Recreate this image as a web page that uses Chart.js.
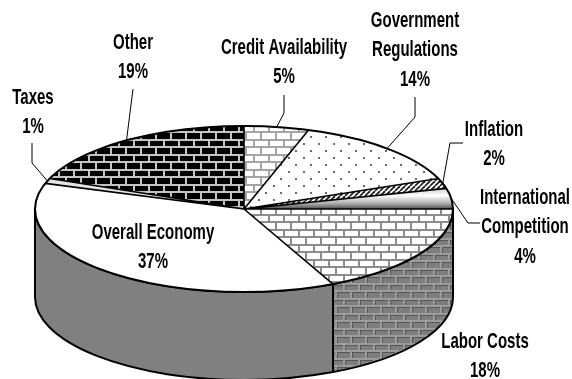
<!DOCTYPE html>
<html>
<head>
<meta charset="utf-8">
<script src="https://cdn.jsdelivr.net/npm/chart.js@4.4.1/dist/chart.umd.min.js"></script>
<style>
  html, body { margin: 0; padding: 0; background: #fff; }
  #wrap { width: 572px; height: 379px; position: relative; }
</style>
</head>
<body>
<div id="wrap"><canvas id="myChart"></canvas></div>
<script>
const categories = ['Credit Availability', 'Government Regulations', 'Inflation', 'International Competition',
  'Labor Costs', 'Overall Economy', 'Taxes', 'Other'];
const shares = [5, 14, 2, 4, 18, 37, 1, 19];
// how each category name is broken over lines in its label
const nameLines = [['Credit Availability'], ['Government', 'Regulations'], ['Inflation'], ['International', 'Competition'],
  ['Labor Costs'], ['Overall Economy'], ['Taxes'], ['Other']];

// pie geometry: top face is a squashed circle, the rim hangs DEPTH px below it
const RX = 209;
const RY = 83;
const DEPTH = 88;
const K = RY / RX;

// label placement (centre of first text line) and leader knee points
const labelSpots = [
  { x: 284, y: 48, knee: [[284, 95], [284, 113]] },
  { x: 415, y: 21, knee: [[415, 97], [415, 117]] },
  { x: 494, y: 130, knee: [[463, 143], [450, 143]] },
  { x: 525, y: 198, knee: [[480, 223], [468, 223]] },
  { x: 485, y: 342, knee: null },
  { x: 153, y: 233, knee: null },
  { x: 33, y: 98, knee: [[32, 143], [32, 163]] },
  { x: 133, y: 43, knee: [[133, 89]] },
];
const LINE_H = 29.5;
const TEXT_SQUEEZE = 0.75; // narrow face
const TEXT_STRETCH = 1.06;

function tile(w, h, paint) {
  const c = document.createElement('canvas');
  c.width = w; c.height = h;
  paint(c.getContext('2d'));
  return c;
}

function brickTile(brick, mortar, edge) {
  return tile(15, 15, g => {
    g.fillStyle = mortar;
    g.fillRect(0, 0, 15, 15);
    const rows = [[0, 0, 5], [7, 7, 6]];
    rows.forEach(([y, off, h]) => {
      [off - 15, off, off + 15].forEach(x => {
        if (edge) {
          g.fillStyle = edge;
          g.fillRect(x, y, 13, h);
          g.fillStyle = brick;
          g.fillRect(x + 1, y + 1, 12, h - 1);
        } else {
          g.fillStyle = brick;
          g.fillRect(x, y, 13, h);
        }
      });
    });
  });
}

const dotTile = tile(15, 14, g => {
  g.fillStyle = '#fff';
  g.fillRect(0, 0, 15, 14);
  g.fillStyle = '#6a6a6a';
  g.fillRect(3, 3, 2, 2);
  g.fillRect(10, 10, 2, 2);
});

const stripeTile = tile(5, 5, g => {
  g.fillStyle = '#fff';
  g.fillRect(0, 0, 5, 5);
  g.strokeStyle = '#222';
  g.lineWidth = 1.8;
  [[-5, 5, 0, 0], [0, 5, 5, 0], [5, 5, 10, 0]].forEach(([a, b, c, d]) => {
    g.beginPath(); g.moveTo(a, b); g.lineTo(c, d); g.stroke();
  });
});

const pctx = document.createElement('canvas').getContext('2d');
// patterns for the top face are painted inside the squashed transform, so stretch them back
function topPattern(src) {
  const p = pctx.createPattern(src, 'repeat');
  p.setTransform(new DOMMatrix().scale(1, 1 / K));
  return p;
}

const topFills = [
  topPattern(brickTile('#fff', '#a4a4a4')),
  topPattern(dotTile),
  topPattern(stripeTile),
  null, // gradient, built once the chart area is known
  topPattern(brickTile('#fff', '#8c8c8c')),
  '#ffffff',
  '#e4e4e4',
  topPattern(brickTile('#000', '#c4c4c4')),
];
const sideFills = ['#a0a0a0', '#a0a0a0', '#808080', '#808080',
  pctx.createPattern(brickTile('#7e7e7e', '#9c9c9c', '#555555'), 'repeat'),
  '#808080', '#a0a0a0', '#404040'];

function sliceFill(c) {
  if (c.dataIndex !== 3) return topFills[c.dataIndex];
  const area = c.chart.chartArea;
  if (!area) return '#cccccc';
  const cy = (area.top + area.bottom) / 2;
  const g = c.chart.ctx.createLinearGradient(0, cy - RX * Math.sin(Math.PI * 0.08), 0, cy);
  g.addColorStop(0, '#cfcfcf');
  g.addColorStop(0.35, '#ffffff');
  g.addColorStop(0.75, '#a8a8a8');
  g.addColorStop(1, '#4a4a4a');
  return g;
}

const pie3d = {
  id: 'pie3d',
  beforeDatasetsDraw(chart) {
    const ctx = chart.ctx;
    const arcs = chart.getDatasetMeta(0).data;
    const { x: cx, y: cy, outerRadius: r } = arcs[0];
    const ry = r * K;
    // rim of the slices facing the viewer
    arcs.forEach((arc, i) => {
      const a = Math.max(arc.startAngle, 0);
      const b = Math.min(arc.endAngle, Math.PI);
      if (a >= b) return;
      ctx.beginPath();
      ctx.ellipse(cx, cy, r, ry, 0, a, b);
      ctx.ellipse(cx, cy + DEPTH, r, ry, 0, b, a, true);
      ctx.closePath();
      ctx.fillStyle = sideFills[i];
      ctx.fill();
      ctx.lineWidth = 2;
      ctx.strokeStyle = '#000';
      ctx.lineJoin = 'round';
      ctx.stroke();
    });
    ctx.save();
    ctx.translate(cx, cy);
    ctx.scale(1, K);
    ctx.translate(-cx, -cy);
  },
  afterDatasetsDraw(chart) {
    const ctx = chart.ctx;
    const arcs = chart.getDatasetMeta(0).data;
    const { x: cx, y: cy, outerRadius: r } = arcs[0];
    ctx.restore();
    // spokes and rim outlined in screen space so the pen stays even
    const m = new DOMMatrix().translate(cx, cy).scale(1, K).translate(-cx, -cy);
    const spokes = new Path2D();
    arcs.forEach(arc => {
      spokes.moveTo(cx, cy);
      spokes.lineTo(cx + r * Math.cos(arc.startAngle), cy + r * Math.sin(arc.startAngle));
    });
    const sp = new Path2D();
    sp.addPath(spokes, m);
    const rim = new Path2D();
    rim.ellipse(cx, cy, r, r * K, 0, 0, Math.PI * 2);
    ctx.save();
    ctx.strokeStyle = '#000';
    ctx.lineWidth = 1.6;
    ctx.stroke(sp);
    ctx.lineWidth = 2;
    ctx.stroke(rim);
    ctx.restore();
  },
  afterDraw(chart) {
    const ctx = chart.ctx;
    const arcs = chart.getDatasetMeta(0).data;
    ctx.save();
    ctx.fillStyle = '#000';
    ctx.strokeStyle = '#000';
    ctx.lineWidth = 1;
    ctx.textAlign = 'center';
    ctx.textBaseline = 'middle';
    ctx.font = 'bold 20px "Liberation Sans", Arial, sans-serif';
    arcs.forEach((arc, i) => {
      const spot = labelSpots[i];
      const lines = nameLines[i].concat(shares[i] + '%');
      lines.forEach((t, j) => {
        ctx.save();
        ctx.translate(spot.x, spot.y + j * LINE_H);
        ctx.scale(TEXT_SQUEEZE, TEXT_STRETCH);
        ctx.fillText(t, 0, 0);
        ctx.restore();
      });
      if (!spot.knee) return;
      const mid = (arc.startAngle + arc.endAngle) / 2;
      const ex = arc.x + arc.outerRadius * Math.cos(mid);
      const ey = arc.y + arc.outerRadius * K * Math.sin(mid);
      ctx.beginPath();
      ctx.moveTo(spot.knee[0][0], spot.knee[0][1]);
      spot.knee.slice(1).forEach(p => ctx.lineTo(p[0], p[1]));
      ctx.lineTo(ex, ey);
      ctx.stroke();
    });
    ctx.restore();
  }
};

const ctx = document.getElementById('myChart').getContext('2d');
const chart = new Chart(ctx, {
  type: 'pie',
  data: {
    labels: categories,
    datasets: [{
      data: shares,
      backgroundColor: sliceFill,
      borderWidth: 0,
      hoverOffset: 0,
      radius: RX,
      clip: false,
    }]
  },
  options: {
    responsive: true,
    maintainAspectRatio: false,
    animation: false,
    events: [],
    layout: { padding: { left: 0, right: 84, top: 39, bottom: 0 } },
    plugins: {
      legend: { display: false },
      tooltip: { enabled: false },
    }
  },
  plugins: [pie3d]
});
</script>
</body>
</html>
